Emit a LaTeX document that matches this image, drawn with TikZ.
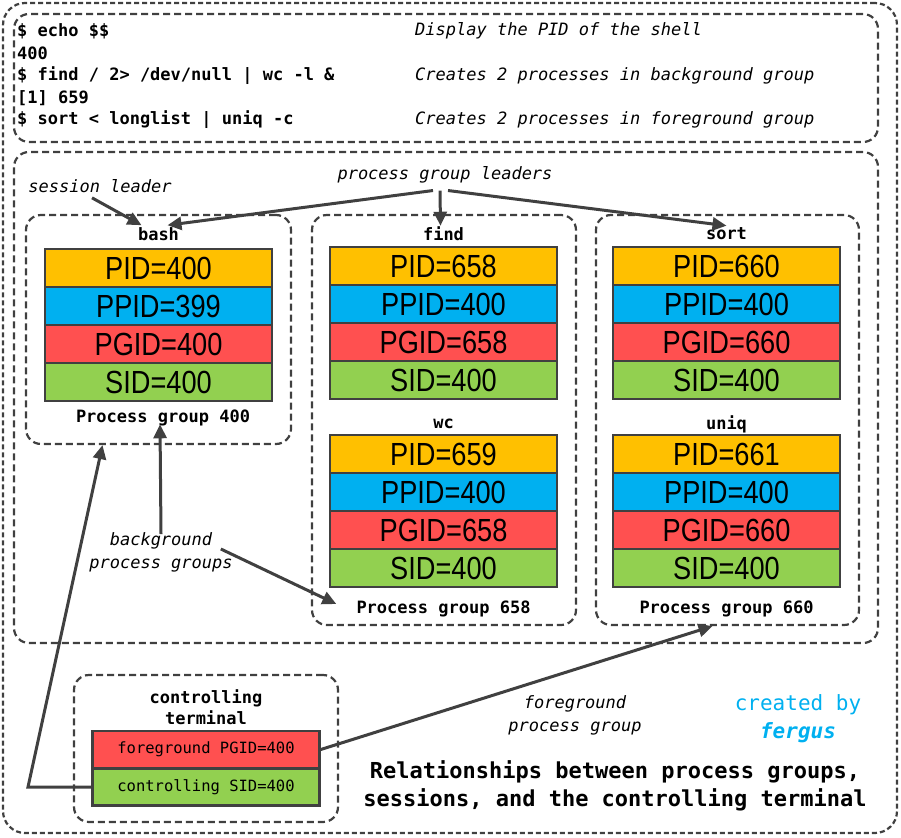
\documentclass[tikz,border=0pt]{standalone}
\usepackage{fontspec}
\usepackage{xcolor}
\usepackage{tikz}
\setmonofont{DejaVu Sans Mono}
\newfontfamily\fieldfont[FakeStretch=0.85]{Liberation Sans}
\usetikzlibrary{arrows.meta,positioning,shapes}
\definecolor{pidyellow}{HTML}{FFC000}
\definecolor{ppidblue}{HTML}{00B0F0}
\definecolor{pgidred}{HTML}{FF5050}
\definecolor{sidgreen}{HTML}{92D050}
\definecolor{linegray}{HTML}{404040}
\definecolor{signcyan}{HTML}{00B0F0}
\tikzset{
	grpbox/.style = {
			draw            = linegray,
			line width      = 2.2pt,
			dash pattern    = on 7pt off 4pt,
			rounded corners = 15pt,
			inner sep       = 0pt,
		},
	field/.style = {
			draw            = linegray,
			line width      = 2.5pt,
			minimum width   = 227pt,
			minimum height  = 38pt,
			inner sep       = 0pt,
			font            = \fieldfont\fontsize{32}{32}\selectfont,
		},
	pidf/.style  = {field, fill=pidyellow},
	ppidf/.style = {field, fill=ppidblue},
	pgidf/.style = {field, fill=pgidred},
	sidf/.style  = {field, fill=sidgreen},
	termf/.style = {field, minimum height=37pt, font=\ttfamily\fontsize{15.5}{15.5}\selectfont},
	cmd/.style   = {anchor=west, inner sep=0pt, font=\ttfamily\bfseries\fontsize{17}{17}\selectfont},
	cmt/.style   = {anchor=west, inner sep=0pt, font=\ttfamily\itshape\fontsize{17}{17}\selectfont},
	lbl/.style   = {inner sep=1pt, font=\ttfamily\bfseries\fontsize{17}{21}\selectfont, align=center},
	note/.style  = {inner sep=1pt, font=\ttfamily\itshape\fontsize{17}{23}\selectfont, align=center},
	conn/.style  = {draw=linegray, line width=3pt, -{Triangle[length=14pt,width=13pt]}},
}

\begin{document}
\begin{tikzpicture}[x=1pt,y=-1pt]
		\useasboundingbox (0,0) rectangle (901,837);

		% frames
		\node[grpbox, rounded corners=22pt, dash pattern=on 5pt off 3pt, minimum width=894pt, minimum height=830pt] at (450,418) (outer) {};
		\node[grpbox, minimum width=864pt, minimum height=128pt] at (446,78) (cmdbox) {};
		\node[grpbox, minimum width=864pt, minimum height=491pt] at (446,397.5) (groups) {};
		\node[grpbox, minimum width=265pt, minimum height=229pt] at (158.5,329.5) (bashgrp) {};
		\node[grpbox, minimum width=264pt, minimum height=410pt] at (444,420) (findgrp) {};
		\node[grpbox, minimum width=263pt, minimum height=410pt] at (727.5,420) (sortgrp) {};
		\node[grpbox, minimum width=264pt, minimum height=147pt] at (206,748.5) (termgrp) {};

		% shell session
		\node[cmd] at (17,31) (echo) {\$ echo \$\$};
		\node[cmd] at (17,53) (out400) {400};
		\node[cmd] at (17,76) (findcmd) {\$ find / 2> /dev/null | wc -l \&};
		\node[cmd] at (17,98) (job) {[1] 659};
		\node[cmd] at (17,120) (sortcmd) {\$ sort < longlist | uniq -c};
		\node[cmt] at (415,31) (echocmt) {Display the PID of the shell};
		\node[cmt] at (415,76) (findcmt) {Creates 2 processes in background group};
		\node[cmt] at (415,120) (sortcmt) {Creates 2 processes in foreground group};

		% bash
		\node[lbl] at (158.5,234) (bashlbl) {bash};
		\node[pidf] at (158.5,268) (bashpid) {PID=400};
		\node[ppidf] at (158.5,306) (bashppid) {PPID=399};
		\node[pgidf] at (158.5,344) (bashpgid) {PGID=400};
		\node[sidf] at (158.5,382) (bashsid) {SID=400};
		\node[lbl] at (163,418) (pg400) {Process group 400};

		% find | wc
		\node[lbl] at (443.5,234) (findlbl) {find};
		\node[pidf] at (443.5,266) (findpid) {PID=658};
		\node[ppidf] at (443.5,304) (findppid) {PPID=400};
		\node[pgidf] at (443.5,342) (findpgid) {PGID=658};
		\node[sidf] at (443.5,380) (findsid) {SID=400};
		\node[lbl] at (443.5,424) (wclbl) {wc};
		\node[pidf] at (443.5,454) (wcpid) {PID=659};
		\node[ppidf] at (443.5,492) (wcppid) {PPID=400};
		\node[pgidf] at (443.5,530) (wcpgid) {PGID=658};
		\node[sidf] at (443.5,568) (wcsid) {SID=400};
		\node[lbl] at (443.5,609) (pg658) {Process group 658};

		% sort | uniq
		\node[lbl] at (726.5,234) (sortlbl) {sort};
		\node[pidf] at (726.5,266) (sortpid) {PID=660};
		\node[ppidf] at (726.5,304) (sortppid) {PPID=400};
		\node[pgidf] at (726.5,342) (sortpgid) {PGID=660};
		\node[sidf] at (726.5,380) (sortsid) {SID=400};
		\node[lbl] at (726.5,424) (uniqlbl) {uniq};
		\node[pidf] at (726.5,454) (uniqpid) {PID=661};
		\node[ppidf] at (726.5,492) (uniqppid) {PPID=400};
		\node[pgidf] at (726.5,530) (uniqpgid) {PGID=660};
		\node[sidf] at (726.5,568) (uniqsid) {SID=400};
		\node[lbl] at (726.5,609) (pg660) {Process group 660};

		% terminal
		\node[lbl] at (206,707) (termlbl) {controlling\\terminal};
		\node[termf, fill=pgidred] at (206,749.5) (fgpgid) {foreground PGID=400};
		\node[termf, fill=sidgreen] at (206,787) (ctlsid) {controlling SID=400};
		\coordinate (bend) at (28,787);

		% notes
		\node[note] at (100,186) (sessionlbl) {session leader};
		\node[note] at (445,175) (leaderlbl) {process group leaders};
		\node[note] at (161,552) (bglbl) {background\\process groups};
		\node[note] at (575,715) (fglbl) {foreground\\process group};
		\node[inner sep=0pt, text=signcyan, align=center, font=\ttfamily\fontsize{21}{28}\selectfont] at (798,719) (sign) {created by\\\textbf{\textit{fergus}}};
		\node[inner sep=0pt, align=center, font=\ttfamily\bfseries\fontsize{22}{28}\selectfont] at (615,786) (title) {Relationships between process groups,\\sessions, and the controlling terminal};

		\draw[conn] ([xshift=-8pt,yshift=-4pt]sessionlbl.south) -- ([xshift=-17pt,yshift=1pt]bashlbl.north);
		\draw[conn] ([xshift=-12pt,yshift=-6pt]leaderlbl.south) -- ([xshift=9pt,yshift=1pt]bashlbl.north);
		\draw[conn] ([xshift=-5pt,yshift=-6pt]leaderlbl.south) -- ([xshift=-3pt]findlbl.north);
		\draw[conn] ([xshift=3pt,yshift=-6pt]leaderlbl.south) -- ([yshift=1pt]sortlbl.north);
		\draw[conn] ([yshift=-3pt]bglbl.north) -- ([xshift=-3pt,yshift=3pt]pg400.south);
		\draw[conn] ([xshift=-13pt,yshift=3pt]bglbl.east) -- ([xshift=-19pt,yshift=5pt]pg658.west);
		\draw[conn] (ctlsid.west) -- (bend) -- ([xshift=-56pt]bashgrp.south);
		\draw[conn] (fgpgid.east) -- ([xshift=-15pt]sortgrp.south);
	\end{tikzpicture}
\end{document}
